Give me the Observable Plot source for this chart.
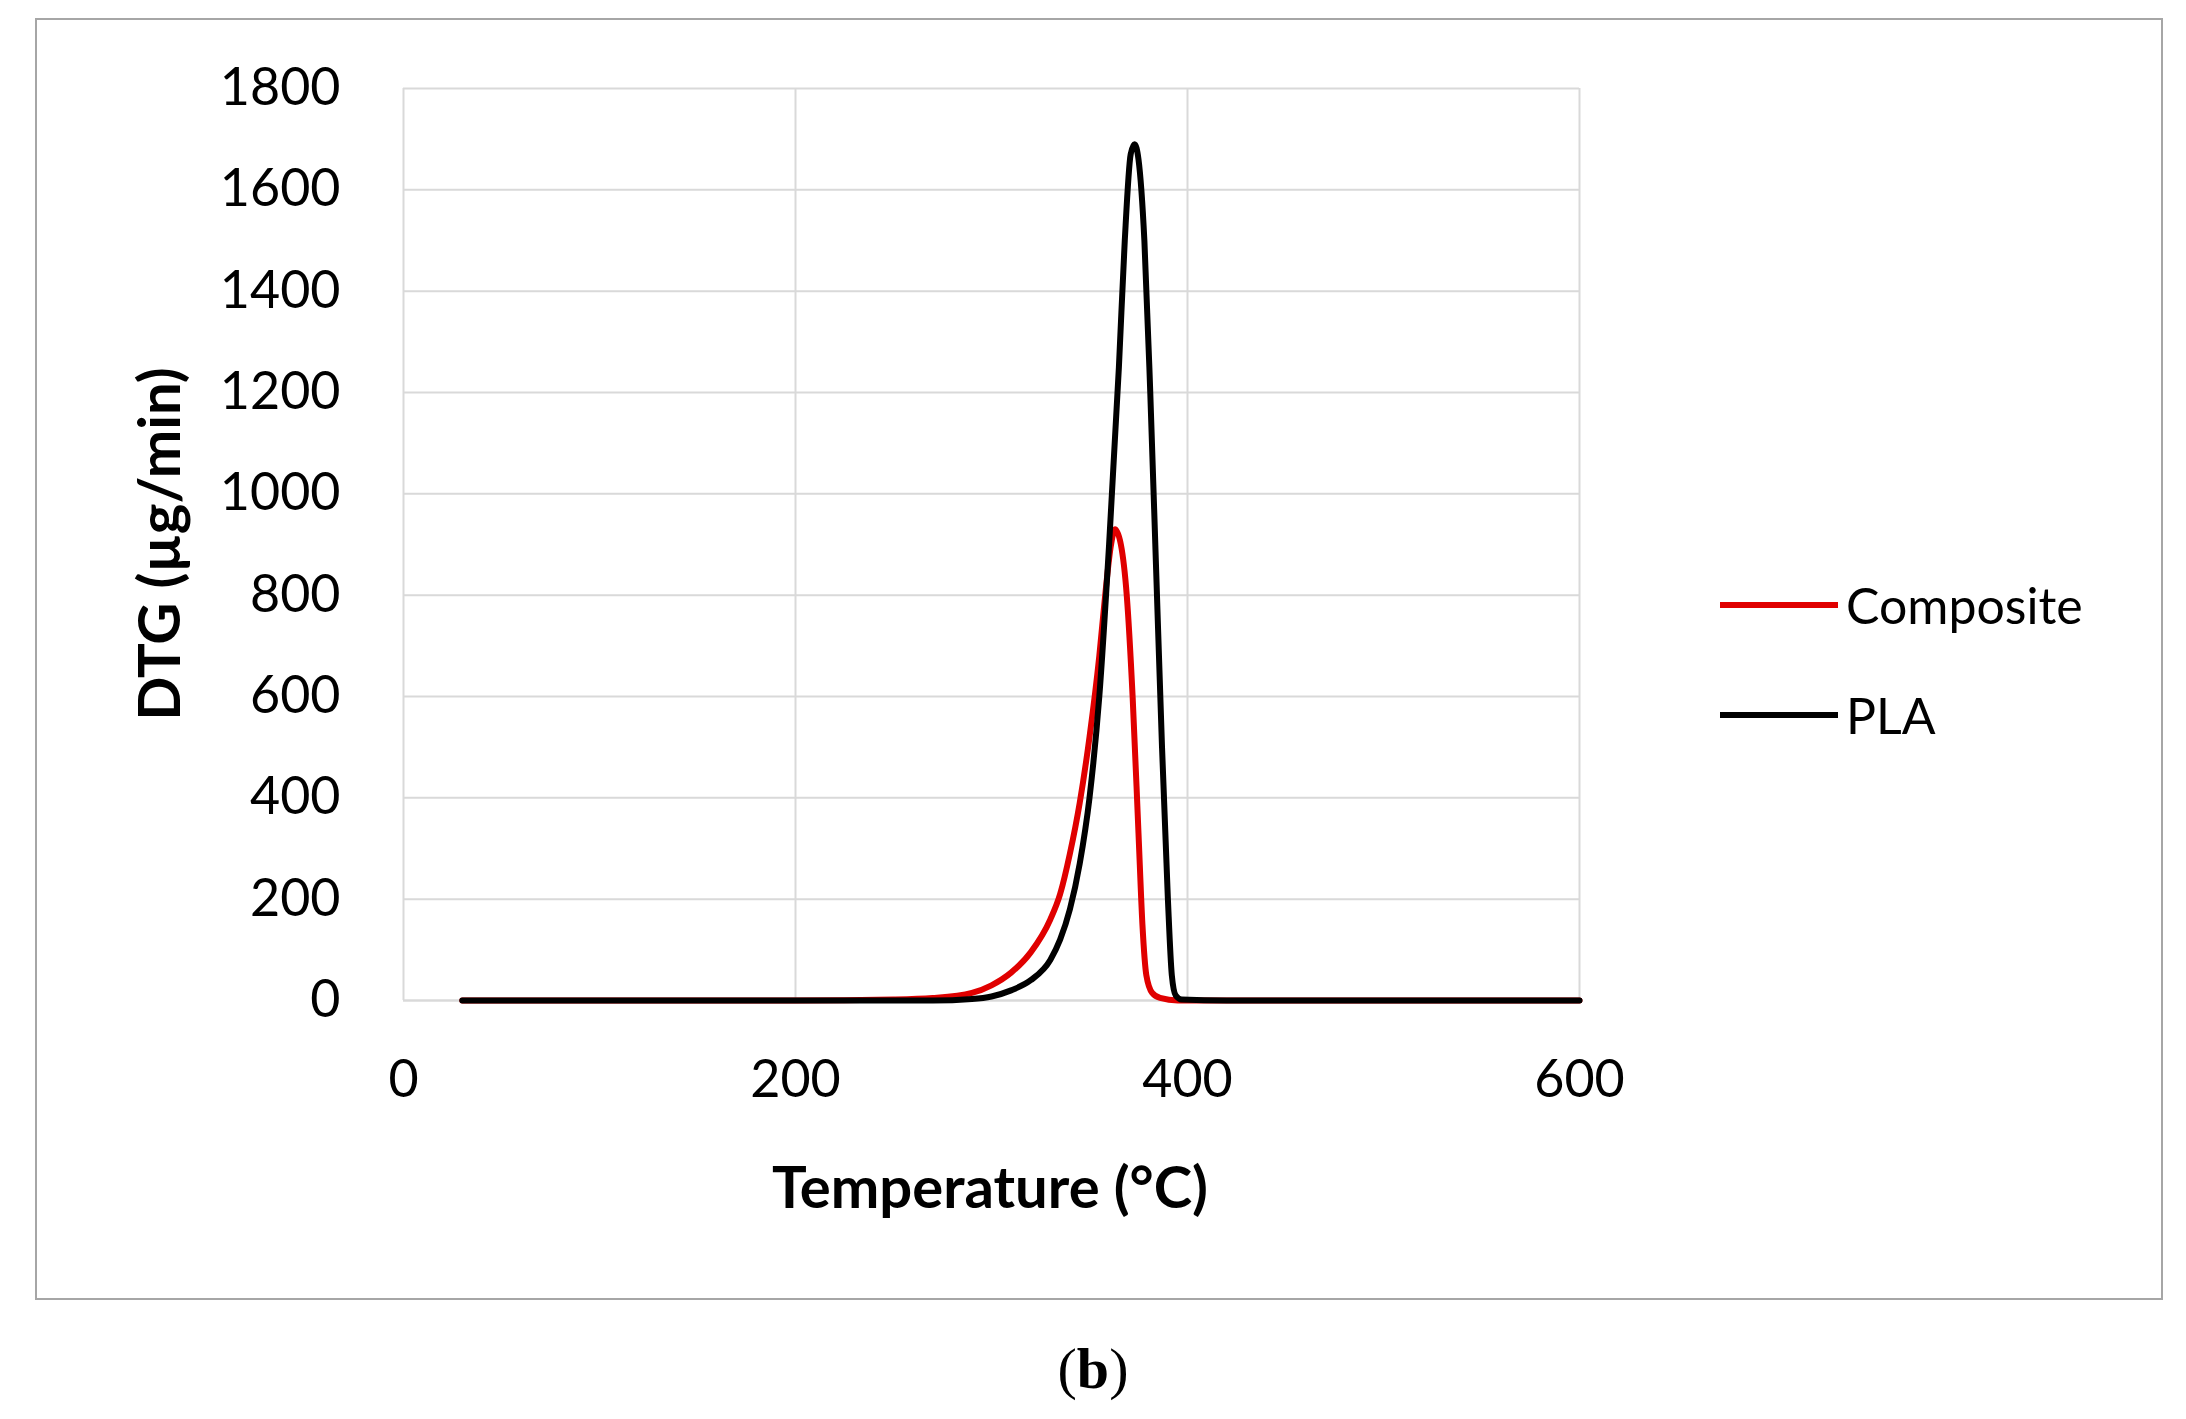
<!DOCTYPE html>
<html><head><meta charset="utf-8">
<script src="https://cdn.jsdelivr.net/npm/d3@7"></script>
<script src="https://cdn.jsdelivr.net/npm/@observablehq/plot@0.6"></script>
<style>
body{margin:0;background:#fff;width:2186px;height:1419px;position:relative;overflow:hidden;font-family:Lato,"Open Sans",sans-serif}
#box{position:absolute;left:35px;top:18px;width:2128px;height:1282px;border:2px solid #a6a6a6;box-sizing:border-box}
#chart{position:absolute;left:0;top:0}
.lab{position:absolute;font-weight:bold;font-size:58px;color:#000;white-space:nowrap}
.leg{position:absolute;font-size:50px;display:flex;align-items:center}
.leg span.l{display:inline-block;width:118px;height:6px;margin-right:8px}
#cap{position:absolute;left:0;width:2186px;top:1335px;text-align:center;font-family:"Liberation Serif",serif;font-size:58px}
</style></head><body>
<div id="box"></div>
<div id="chart"></div>
<div class="lab" style="left:990px;top:1185px;transform:translate(-50%,-50%)">Temperature (°C)</div>
<div class="lab" style="left:157px;top:544px;transform:translate(-50%,-50%) rotate(-90deg)">DTG (µg/min)</div>
<div class="leg" style="left:1720px;top:575px"><span class="l" style="background:#e00000"></span>Composite</div>
<div class="leg" style="left:1720px;top:685px"><span class="l" style="background:#000"></span>PLA</div>
<div id="cap">(<b>b</b>)</div>
<script>
const plaT = [30,100,200,270,290,300,310,320,330,335,340,345,350,355,360,365,368,371,373,375,378,381,384,387,390,392,394,397,420,600];
const plaY = [0,0,0,0,3,8,20,40,80,120,180,270,400,600,900,1250,1500,1670,1690,1660,1500,1200,850,500,200,50,10,2,0,0];
const compT = [30,200,250,270,290,300,310,320,330,335,340,345,350,355,358,361,363,366,369,372,375,377,379,382,386,395,600];
const compY = [0,0,2,5,15,30,55,95,160,210,290,390,520,680,800,900,930,900,800,600,330,150,50,15,5,0,0];
const xTicks = [0,200,400,600];
const yTicks = [0,200,400,600,800,1000,1200,1400,1600,1800];
const pla = plaT.map((t,i)=>({t,v:plaY[i]}));
const comp = compT.map((t,i)=>({t,v:compY[i]}));
const chart = Plot.plot({
  width:2186, height:1300,
  marginLeft:403, marginRight:607, marginTop:88, marginBottom:300,
  style:{fontFamily:"Lato, 'Open Sans', sans-serif", fontSize:"52px", color:"#000", background:"transparent"},
  x:{domain:[0,600], ticks:xTicks, tickFormat:d3.format("d"), label:null, tickSize:0, tickPadding:60},
  y:{domain:[0,1800], ticks:yTicks, tickFormat:d3.format("d"), label:null, tickSize:0, tickPadding:63},
  marks:[
    Plot.gridX(xTicks,{stroke:"#d9d9d9", strokeOpacity:1, strokeWidth:2}),
    Plot.gridY(yTicks,{stroke:"#d9d9d9", strokeOpacity:1, strokeWidth:2}),
    Plot.ruleY([0],{stroke:"#d9d9d9", strokeWidth:2}),
    Plot.line(comp,{x:"t",y:"v",stroke:"#e00000",strokeWidth:6,curve:"monotone-x"}),
    Plot.line(pla,{x:"t",y:"v",stroke:"#000",strokeWidth:6,curve:"monotone-x"})
  ]
});
document.getElementById("chart").appendChild(chart);
</script>
</body></html>
